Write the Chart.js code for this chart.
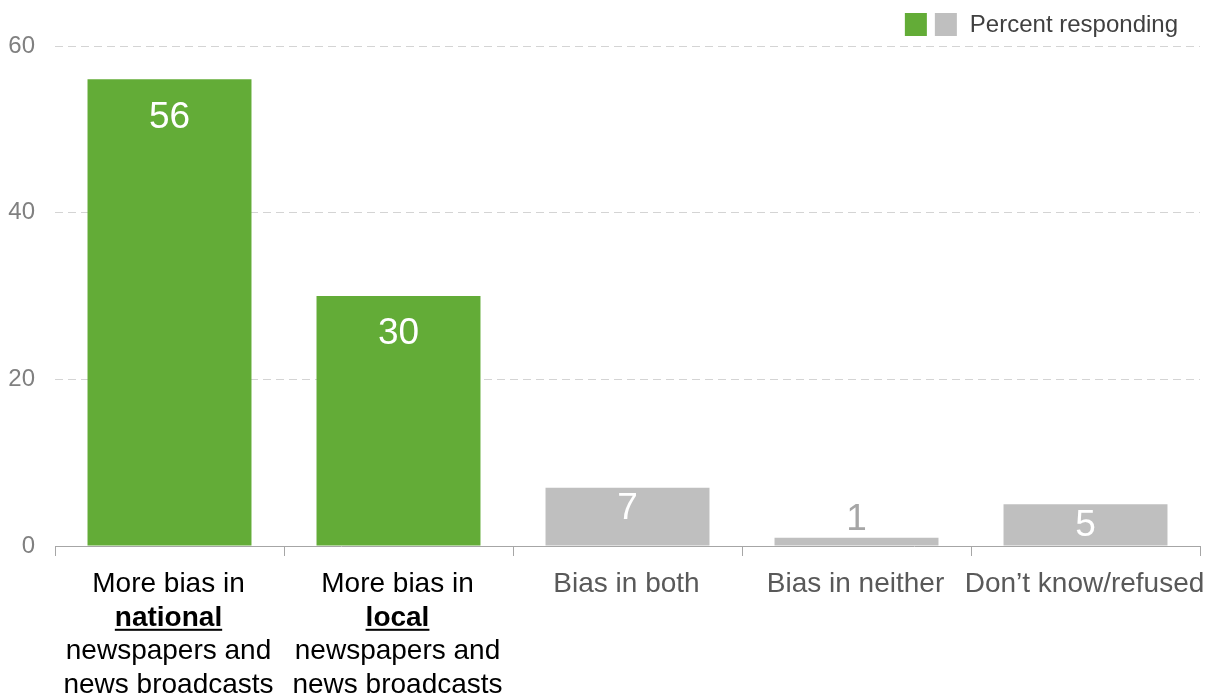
<!DOCTYPE html>
<html>
<head>
<meta charset="utf-8">
<script src="https://cdn.jsdelivr.net/npm/chart.js@4.4.1/dist/chart.umd.min.js"></script>
<style>
  html, body { margin: 0; padding: 0; background: #fff; }
  #wrap { width: 1212px; height: 698px; }
</style>
</head>
<body>
<div id="wrap"><canvas id="biasChart"></canvas></div>
<script>
// Category labels, one entry per line
const categories = [
    ['More bias in', 'national', 'newspapers and', 'news broadcasts'],
    ['More bias in', 'local', 'newspapers and', 'news broadcasts'],
    ['Bias in both'],
    ['Bias in neither'],
    ['Don\u2019t know/refused']
];
// Words shown bold and underlined in the axis labels
const emphasis = ['national', 'local'];
const values = [56, 30, 7, 1, 5];
const yTicks = [0, 20, 40, 60];
const legendText = 'Percent responding';

const FONT = "'Liberation Sans', Arial, sans-serif";
const GREEN = '#63ac37';
const GREY = '#bfbfbf';

const barColor = (i) => (i < 2 ? GREEN : GREY);

// Multi-line category labels with emphasised words
const xLabels = {
    id: 'xLabels',
    afterDraw(chart) {
        const c = chart.ctx;
        const x = chart.scales.x;
        const base = chart.chartArea.bottom + 38;
        c.save();
        c.textAlign = 'center';
        c.textBaseline = 'middle';
        categories.forEach((lines, i) => {
            const cx = x.getPixelForValue(i) - 1;
            c.fillStyle = i < 2 ? '#000000' : '#595959';
            lines.forEach((line, j) => {
                const y = base + j * 33.8;
                const bold = emphasis.includes(line);
                c.font = (bold ? 'bold ' : '') + '28px ' + FONT;
                c.fillText(line, cx, y);
                if (bold) {
                    const w = c.measureText(line).width;
                    c.fillRect(cx - w / 2, y + 11, w, 2);
                }
            });
        });
        c.restore();
    }
};

// Value labels inside (or above) each bar
const valueLabels = {
    id: 'valueLabels',
    afterDatasetsDraw(chart) {
        const c = chart.ctx;
        const meta = chart.getDatasetMeta(0);
        c.save();
        c.textAlign = 'center';
        c.textBaseline = 'middle';
        c.font = '37px ' + FONT;
        meta.data.forEach((bar, i) => {
            const h = bar.base - bar.y;
            let y, color = '#ffffff';
            if (h >= 80) y = bar.y + 38;
            else if (h >= 30) y = bar.y + 21;
            else { y = bar.y - 18; color = '#a6a6a6'; }
            c.fillStyle = color;
            c.fillText(String(values[i]), bar.x, y);
        });
        c.restore();
    }
};

// Legend: green and grey swatches sharing one caption
const swatchLegend = {
    id: 'swatchLegend',
    afterDraw(chart) {
        const c = chart.ctx;
        c.save();
        c.font = '24px ' + FONT;
        const tw = c.measureText(legendText).width;
        const right = 1178;
        const tx = right - tw;
        c.fillStyle = GREY;
        c.fillRect(tx - 35, 13, 22, 23);
        c.fillStyle = GREEN;
        c.fillRect(tx - 65, 13, 22, 23);
        c.fillStyle = '#404040';
        c.textBaseline = 'middle';
        c.fillText(legendText, tx, 25);
        c.restore();
    }
};

new Chart(document.getElementById('biasChart'), {
    type: 'bar',
    data: {
        labels: categories,
        datasets: [{
            label: legendText,
            data: values,
            backgroundColor: (ctx) => barColor(ctx.dataIndex),
            borderWidth: 0,
            barPercentage: 0.716,
            categoryPercentage: 1
        }]
    },
    options: {
        responsive: true,
        maintainAspectRatio: false,
        animation: false,
        layout: { padding: { top: 46, right: 12, left: 0, bottom: 0 } },
        plugins: {
            legend: { display: false },
            tooltip: { enabled: false }
        },
        scales: {
            x: {
                offset: true,
                grid: {
                    drawOnChartArea: false,
                    drawTicks: true,
                    tickLength: 10,
                    color: '#a6a6a6'
                },
                border: { display: true, color: '#a6a6a6', width: 1 },
                ticks: { display: false },
                afterFit: (scale) => { scale.height = 152; }
            },
            y: {
                min: 0,
                max: 60,
                afterBuildTicks: (scale) => {
                    scale.ticks = yTicks.map(v => ({ value: v }));
                },
                grid: {
                    drawTicks: false,
                    color: (ctx) => (ctx.tick && ctx.tick.value === 0 ? 'rgba(0,0,0,0)' : '#d4d4d4'),
                    lineWidth: 1
                },
                border: { display: false, dash: [8, 5] },
                ticks: {
                    padding: 20,
                    color: '#808080',
                    font: { family: FONT, size: 24 }
                },
                afterFit: (scale) => { scale.width = 55; }
            }
        }
    },
    plugins: [valueLabels, xLabels, swatchLegend]
});
</script>
</body>
</html>
